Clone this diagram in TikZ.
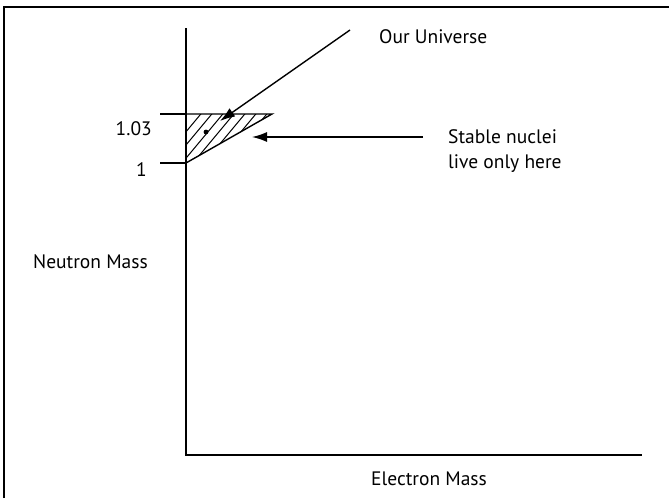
\documentclass[tikz,border=0pt]{standalone}
\usepackage{fontspec}
\setmainfont{PT Sans}
\usetikzlibrary{arrows.meta}
\tikzset{
  lbl/.style={inner sep=0pt, font=\fontsize{19.5}{25}\selectfont},
  axis/.style={line width=1.8pt},
  thin line/.style={line width=1.4pt},
  pointer/.style={line width=1.4pt, -{Latex[length=15pt,width=10pt]}},
  hatchline/.style={line width=1pt}
}
\begin{document}
\begin{tikzpicture}[x=1pt,y=-1pt]
\useasboundingbox (0,0) rectangle (669,498);
% frame
\draw[line width=1.4pt] (4,498) -- (4,7) -- (669,7);
% coordinates
\coordinate (O) at (186,455);
\coordinate (ytop) at (186,28);
\coordinate (xend) at (642,455);
\coordinate (ta) at (160,114);
\coordinate (tv) at (186,114);
\coordinate (tb) at (272,114);
\coordinate (oa) at (160,163);
\coordinate (bv) at (186,163);
\coordinate (ustart) at (350,30);
\coordinate (utip) at (220,121);
\coordinate (dot) at (206,132);
\coordinate (astart) at (423,137);
\coordinate (atip) at (252,137);
% hatch
\begin{scope}
  \clip (tv) -- (tb) -- (bv) -- cycle;
  \foreach \i in {0,...,14} \draw[hatchline] (150+\i*11,175) -- ++(70,-84);
\end{scope}
\draw[thin line] (tv) -- (tb) -- (bv);
% axes
\draw[axis] (ytop) -- (O) -- (xend);
% ticks
\draw[thin line] (ta) -- (tv);
\draw[thin line] (oa) -- (bv);
% labels
\node[lbl, anchor=east] (l103) at (152,129) {1.03};
\node[lbl, anchor=east] (l1) at (147,170) {1};
\node[lbl, anchor=west] (ou) at (379,37) {Our Universe};
\node[lbl, anchor=west, align=left] (sn) at (448,151) {Stable nuclei\\live only here};
\node[lbl, anchor=west] (nm) at (33,262) {Neutron Mass};
\node[lbl, anchor=west] (em) at (371,479) {Electron Mass};
% pointers
\draw[pointer] (ustart) -- (utip);
\fill (dot) circle (2.4pt);
\draw[pointer] (astart) -- (atip);
\end{tikzpicture}
\end{document}
